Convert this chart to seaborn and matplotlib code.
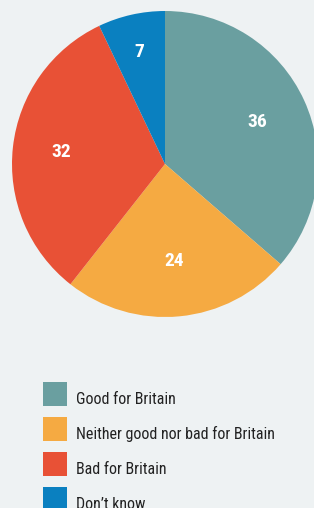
import numpy as np
import seaborn as sns
import matplotlib.pyplot as plt
from matplotlib.patches import Rectangle

# data
categories = ['Good for Britain', 'Neither good nor bad for Britain', 'Bad for Britain', 'Don\u2019t know']
values = [36, 24, 32, 7]
colors = ['#6a9fa0', '#f5aa42', '#e85136', '#0a80c0']
label_dist = [0.66, 0.64, 0.68, 0.75]

bg = '#eef2f3'
sns.set_theme(style='white', rc={'figure.facecolor': bg, 'axes.facecolor': bg})
plt.rcParams['font.family'] = ['Roboto Condensed', 'Roboto', 'DejaVu Sans']

fig = plt.figure(figsize=(3.14, 5.08), dpi=100)
ax = fig.add_axes([12 / 314, 1 - 317 / 508, 306 / 314, 306 / 508])

wedges, _ = ax.pie(values, colors=colors, startangle=90, counterclock=False,
                   radius=1, wedgeprops=dict(linewidth=0))
ax.set_xlim(-1, 1)
ax.set_ylim(-1, 1)
ax.set_aspect('equal')
ax.axis('off')

for w, v, d in zip(wedges, values, label_dist):
    ang = np.deg2rad((w.theta1 + w.theta2) / 2)
    ax.text(d * np.cos(ang), d * np.sin(ang), str(v), ha='center', va='center',
            color='white', fontsize=14, fontweight='heavy')

# legend drawn in pixel space
lax = fig.add_axes([0, 0, 1, 1])
lax.set_xlim(0, 314)
lax.set_ylim(508, 0)
lax.axis('off')
lax.patch.set_alpha(0)

# fit legend font so the longest label spans ~200 px
renderer = fig.canvas.get_renderer()
fs = 11
probe = lax.text(0, 0, categories[1], fontsize=fs)
wpx = probe.get_window_extent(renderer).width
probe.remove()
fs = fs * 200 / wpx

for i, (c, lab) in enumerate(zip(colors, categories)):
    top = 382 + i * 35
    lax.add_patch(Rectangle((43, top), 24, 24, facecolor=c, edgecolor='none'))
    lax.text(76, top + 22, lab, fontsize=fs, va='baseline', ha='left', color='#222222')

fig.savefig('out.png', dpi=100, facecolor=bg)
